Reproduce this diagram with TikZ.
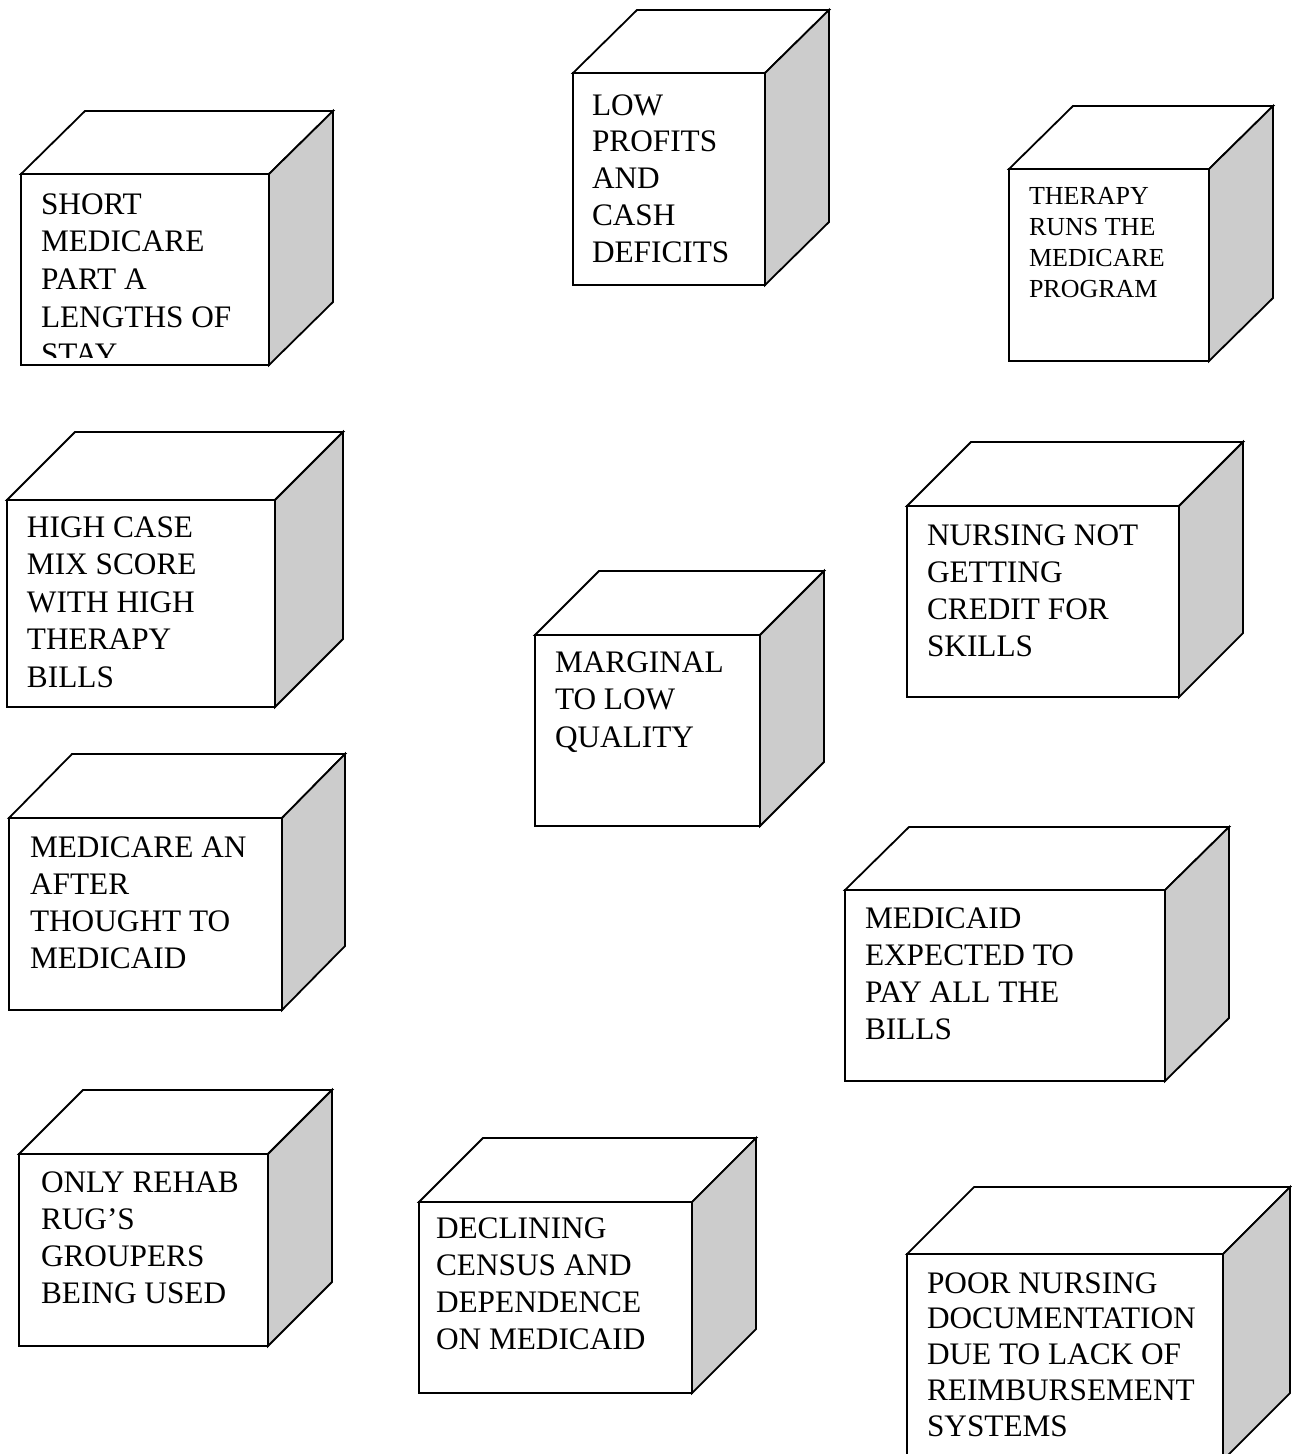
\documentclass[tikz,border=0pt]{standalone}
\usepackage{fontspec}
\setmainfont{Liberation Serif}
\definecolor{sidegray}{RGB}{204,204,204}
\newcommand{\ctext}[1]{\begin{tabular}[t]{@{}l@{}}#1\end{tabular}}
\tikzset{
  front/.style={draw, fill=white, line width=1.8pt, rectangle, inner sep=0pt, outer sep=0pt, anchor=north west},
  face/.style={draw, line width=1.8pt, line join=miter},
  txt/.style={inner sep=0pt, outer sep=0pt, anchor=base west, font=\fontsize{31.3}{37.2}\selectfont},
  smalltxt/.style={txt, font=\fontsize{26}{31}\selectfont},
  tighttxt/.style={txt, font=\fontsize{31.3}{35.8}\selectfont}
}
% name, x, y, width, height, dx, dy
\newcommand{\mycube}[7]{%
  \draw[face, fill=white] (#2,#3) -- ++(#6,-#7) -- ++(#4,0) -- ++(-#6,#7) -- cycle;
  \draw[face, fill=sidegray] (#2+#4,#3) -- ++(#6,-#7) -- ++(0,#5) -- ++(-#6,#7) -- cycle;
  \node[front, minimum width=#4pt, minimum height=#5pt] (#1) at (#2,#3) {};
}
\begin{document}
\begin{tikzpicture}[x=1pt,y=-1pt]
\useasboundingbox (0,0) rectangle (1291,1454);

\mycube{c1}{21}{174}{248}{191}{64}{63}
\begin{scope}
  \clip (c1.north west) rectangle ([yshift=8pt]c1.south east);
  \node[txt, font=\fontsize{31.3}{37.7}\selectfont] (t1) at (41,214) {\ctext{SHORT\\MEDICARE\\PART A\\LENGTHS OF\\STAY}};
\end{scope}

\mycube{c2}{573}{73}{192}{212}{64}{63}
\node[txt, font=\fontsize{31.3}{36.8}\selectfont] (t2) at (592,115) {\ctext{LOW\\PROFITS\\AND\\CASH\\DEFICITS}};

\mycube{c3}{1009}{169}{200}{192}{64}{63}
\node[smalltxt] (t3) at (1029,204) {\ctext{THERAPY\\RUNS THE\\MEDICARE\\PROGRAM}};

\mycube{c4}{7}{500}{268}{207}{68}{68}
\node[txt, font=\fontsize{31.3}{37.5}\selectfont] (t4) at (27,537) {\ctext{HIGH CASE\\MIX SCORE\\WITH HIGH\\THERAPY\\BILLS}};

\mycube{c5}{907}{506}{272}{191}{64}{64}
\node[txt] (t5) at (927,545) {\ctext{NURSING NOT\\GETTING\\CREDIT FOR\\SKILLS}};

\mycube{c6}{535}{635}{225}{191}{64}{64}
\node[txt, font=\fontsize{31.3}{37.5}\selectfont] (t6) at (555,672) {\ctext{MARGINAL\\TO LOW\\QUALITY}};

\mycube{c7}{9}{818}{273}{192}{63}{64}
\node[txt] (t7) at (30,857) {\ctext{MEDICARE AN\\AFTER\\THOUGHT TO\\MEDICAID}};

\mycube{c8}{845}{890}{320}{191}{64}{63}
\node[txt] (t8) at (865,928) {\ctext{MEDICAID\\EXPECTED TO\\PAY ALL THE\\BILLS}};

\mycube{c9}{19}{1154}{249}{192}{64}{64}
\node[txt] (t9) at (41,1192) {\ctext{ONLY REHAB\\RUG’S\\GROUPERS\\BEING USED}};

\mycube{c10}{419}{1202}{273}{191}{64}{64}
\node[txt] (t10) at (436,1238) {\ctext{DECLINING\\CENSUS AND\\DEPENDENCE\\ON MEDICAID}};

\mycube{c11}{907}{1254}{316}{206}{67}{67}
\node[tighttxt] (t11) at (927,1293) {\ctext{POOR NURSING\\DOCUMENTATION\\DUE TO LACK OF\\REIMBURSEMENT\\SYSTEMS}};
\end{tikzpicture}
\end{document}
